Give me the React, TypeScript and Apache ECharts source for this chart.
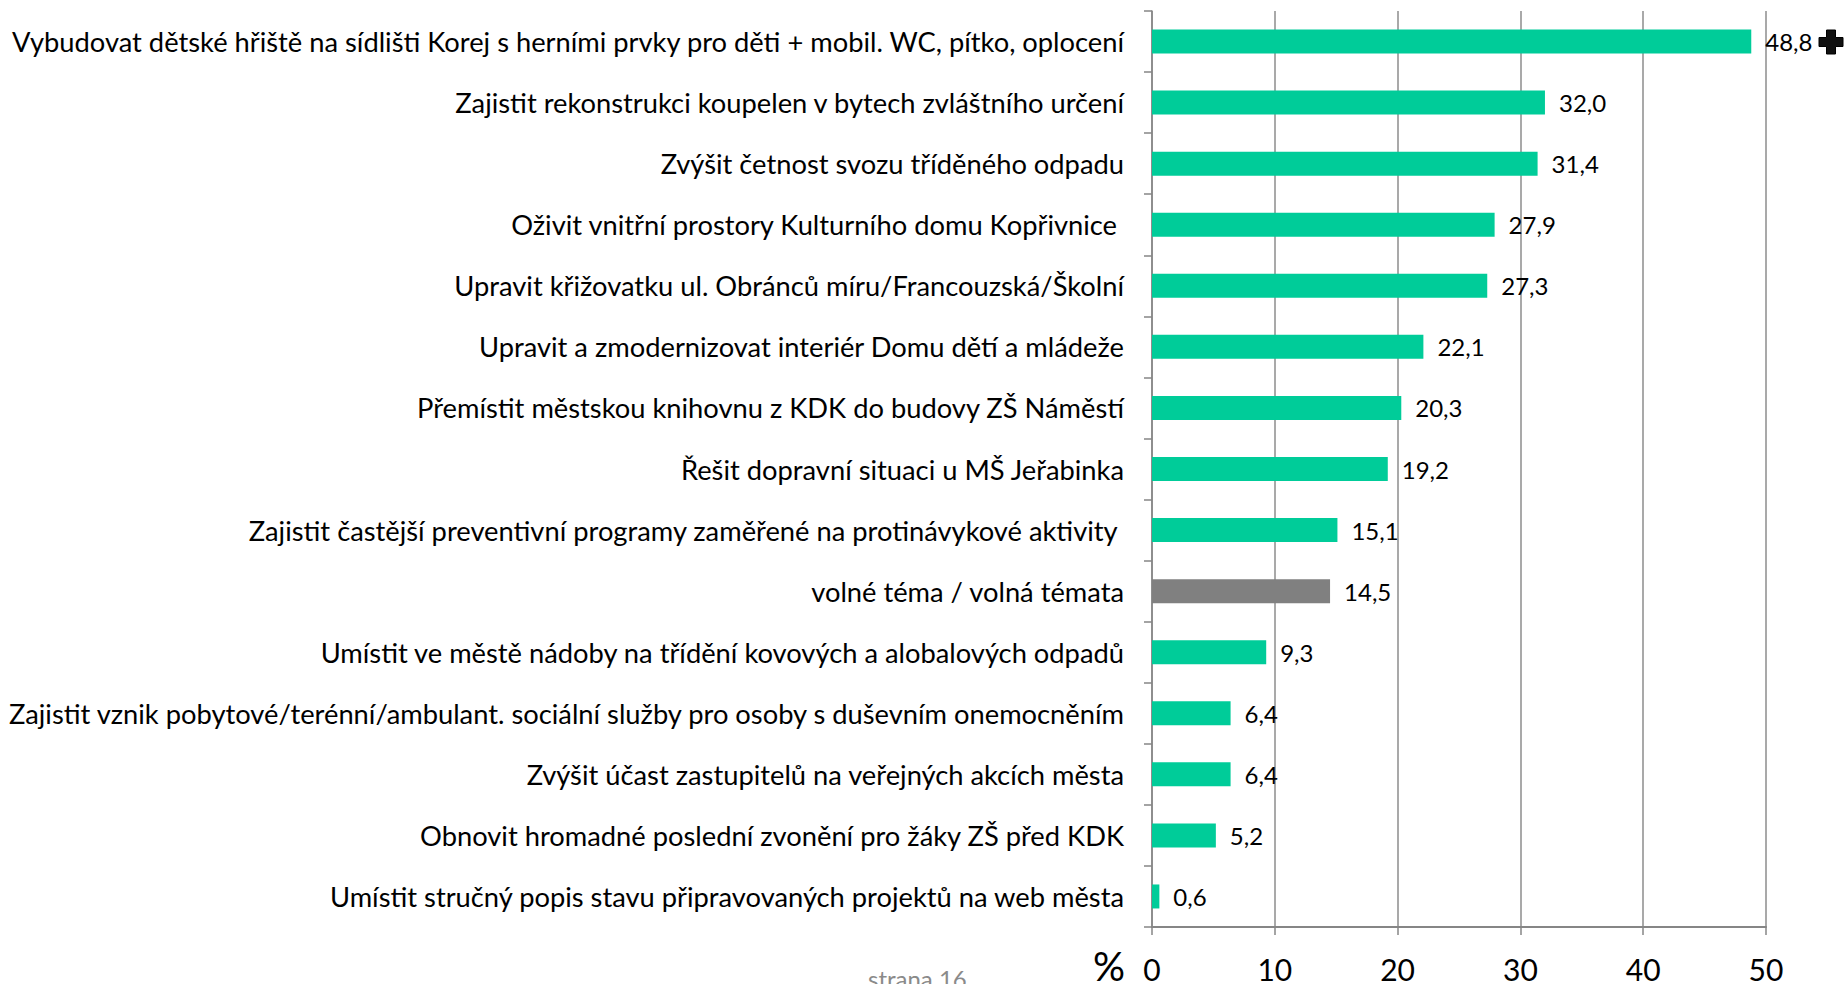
import React, { useEffect, useRef } from "react";
import * as echarts from "echarts";

const categories = [
  "Vybudovat dětské hřiště na sídlišti Korej s herními prvky pro děti + mobil. WC, pítko, oplocení",
  "Zajistit rekonstrukci koupelen v bytech zvláštního určení",
  "Zvýšit četnost svozu tříděného odpadu",
  "Oživit vnitřní prostory Kulturního domu Kopřivnice ",
  "Upravit křižovatku ul. Obránců míru/Francouzská/Školní",
  "Upravit a zmodernizovat interiér Domu dětí a mládeže",
  "Přemístit městskou knihovnu z KDK do budovy ZŠ Náměstí",
  "Řešit dopravní situaci u MŠ Jeřabinka",
  "Zajistit častější preventivní programy zaměřené na protinávykové aktivity ",
  "volné téma / volná témata",
  "Umístit ve městě nádoby na třídění kovových a alobalových odpadů",
  "Zajistit vznik pobytové/terénní/ambulant. sociální služby pro osoby s duševním onemocněním",
  "Zvýšit účast zastupitelů na veřejných akcích města",
  "Obnovit hromadné poslední zvonění pro žáky ZŠ před KDK",
  "Umístit stručný popis stavu připravovaných projektů na web města",
];

const values = [48.8, 32.0, 31.4, 27.9, 27.3, 22.1, 20.3, 19.2, 15.1, 14.5, 9.3, 6.4, 6.4, 5.2, 0.6];

const highlightCategory = "volné téma / volná témata";

const xTicks = [0, 10, 20, 30, 40, 50];

const GREEN = "#00CC99";
const GRAY = "#808080";
const FONT = "Lato";

export default function App() {
  const ref = useRef<HTMLDivElement>(null);

  useEffect(() => {
    if (!ref.current) return;
    const chart = echarts.init(ref.current, null, { renderer: "svg" });
    const cx = 1831;
    const cy = 42;
    const a = 12;
    const t = 4.5;
    chart.setOption({
      animation: false,
      backgroundColor: "#ffffff",
      grid: { left: 1152, right: 78, top: 11, bottom: 57, containLabel: false },
      xAxis: {
        type: "value",
        min: xTicks[0],
        max: xTicks[xTicks.length - 1],
        interval: 10,
        axisLine: { show: true, lineStyle: { color: "#868686", width: 2 } },
        axisTick: { show: true, length: 8, lineStyle: { color: "#868686", width: 1.5 } },
        splitLine: { show: true, lineStyle: { color: "#8c8c8c", width: 1.5 } },
        axisLabel: { color: "#000", fontFamily: FONT, fontSize: 30, lineHeight: 30, margin: 27 },
      },
      yAxis: {
        type: "category",
        inverse: true,
        data: categories,
        axisLine: { show: true, lineStyle: { color: "#868686", width: 1.5 } },
        axisTick: { show: true, length: 8, lineStyle: { color: "#868686", width: 1.5 } },
        axisLabel: { color: "#000", fontFamily: FONT, fontSize: 27.3, margin: 28 },
      },
      series: [
        {
          type: "bar",
          barWidth: 24,
          data: values.map((v, i) => ({
            value: v,
            itemStyle: { color: categories[i] === highlightCategory ? GRAY : GREEN },
          })),
          label: {
            show: true,
            position: "right",
            distance: 14,
            color: "#000",
            fontFamily: FONT,
            fontSize: 24,
            formatter: (p: any) => Number(p.value).toFixed(1).replace(".", ","),
          },
        },
      ],
      graphic: [
        {
          type: "text",
          left: 1093,
          top: 946,
          style: { text: "%", fontFamily: FONT, fontSize: 40, lineHeight: 34, fill: "#000" },
        },
        {
          type: "text",
          left: 868,
          top: 966,
          style: { text: "strana 16", fontFamily: FONT, fontSize: 24, fill: "#8a8a8a" },
        },
        {
          type: "polygon",
          shape: {
            points: [
              [cx - t, cy - a],
              [cx + t, cy - a],
              [cx + t, cy - t],
              [cx + a, cy - t],
              [cx + a, cy + t],
              [cx + t, cy + t],
              [cx + t, cy + a],
              [cx - t, cy + a],
              [cx - t, cy + t],
              [cx - a, cy + t],
              [cx - a, cy - t],
              [cx - t, cy - t],
            ],
          },
          style: { fill: "#111", stroke: "#000", lineWidth: 1 },
        },
      ],
    });
    return () => chart.dispose();
  }, []);

  return (
    <div
      ref={ref}
      style={{ position: "absolute", left: 0, top: 0, width: 1844, height: 984 }}
    />
  );
}
